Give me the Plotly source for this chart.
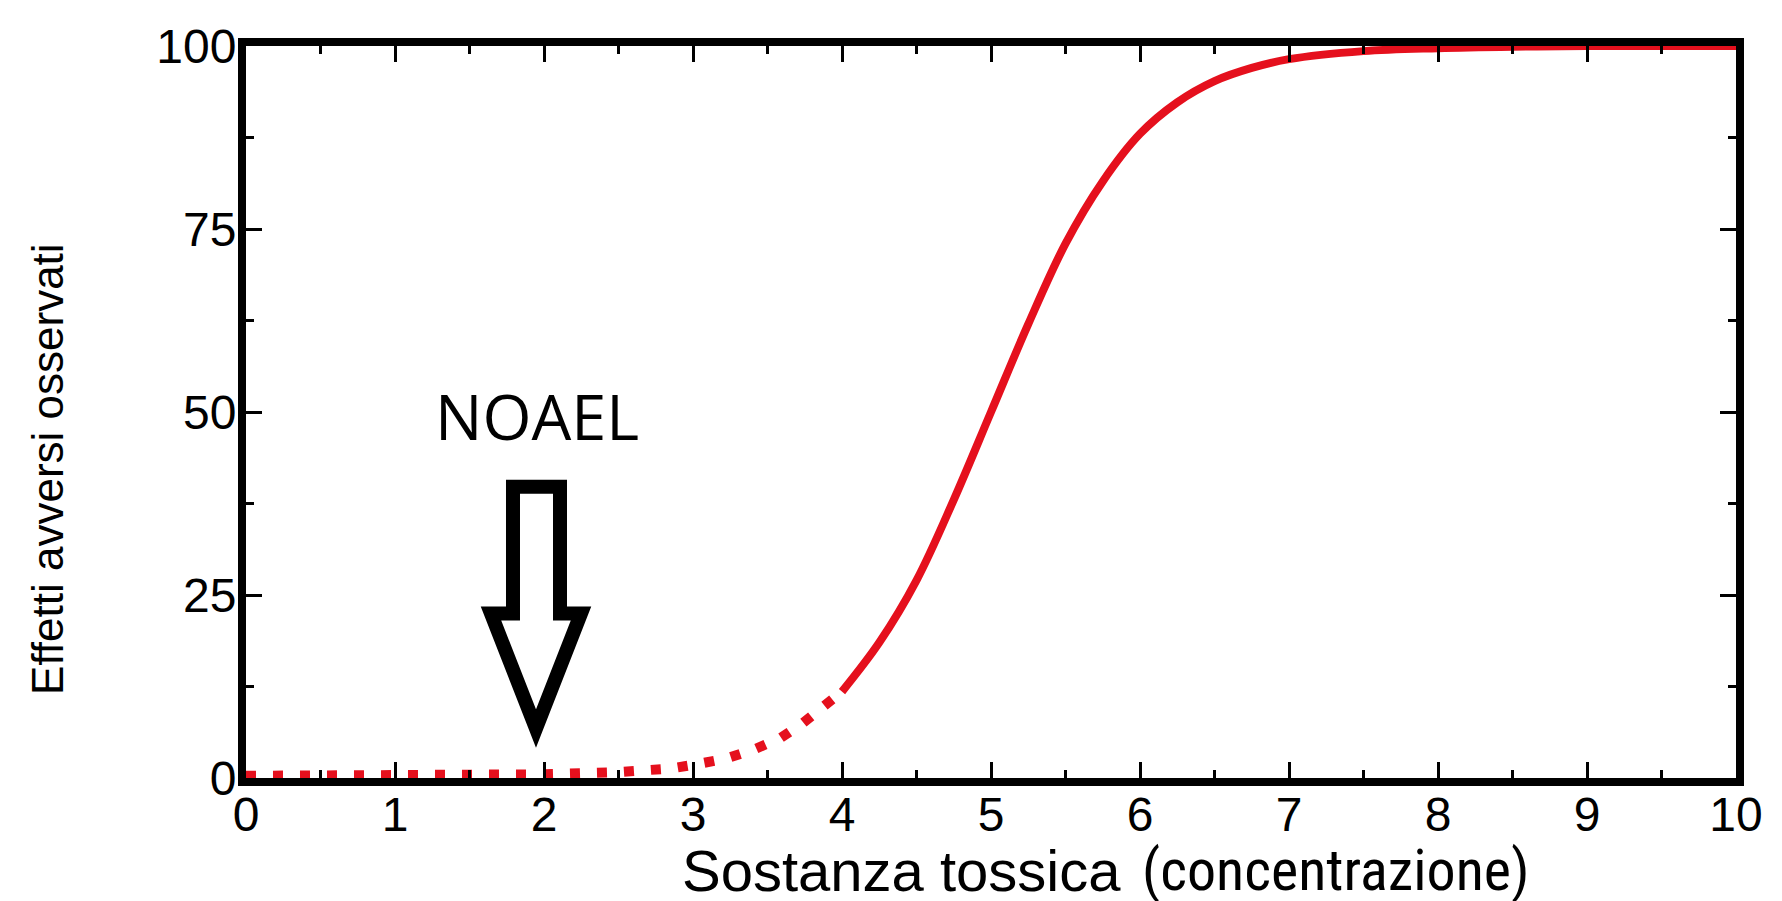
import plotly.graph_objects as go

# ---- data ----
x_dotted = [0.0, 0.5, 1.0, 1.5, 2.0, 2.5, 2.85, 3.03, 3.23, 3.41, 3.59, 3.73, 3.87, 4.0]
y_dotted = [0.3, 0.3, 0.35, 0.4, 0.5, 0.8, 1.3, 1.9, 2.7, 3.9, 5.5, 7.4, 9.5, 11.8]

x_solid = [4.0, 4.25, 4.5, 4.75, 5.0, 5.25, 5.5, 5.75, 6.0, 6.25, 6.5, 6.75, 7.0, 7.5, 8.0, 8.5, 9.0, 10.0]
y_solid = [11.8, 18.5, 27.0, 38.0, 50.0, 62.0, 73.0, 81.5, 88.0, 92.3, 95.2, 97.0, 98.2, 99.3, 99.7, 99.9, 100.0, 100.0]

x_ticks = [0, 1, 2, 3, 4, 5, 6, 7, 8, 9, 10]
y_ticks = [0, 25, 50, 75, 100]

x_title_main = "Sostanza tossica"
x_title_extra = "(concentrazione)"
y_title = "Effetti avversi osservati"
noael_label = "NOAEL"

# ---- layout geometry (page pixels) ----
W, H = 1782, 901
OFF = 8  # default body margin of the html page
L, R, T, B = 246, 1736, 39, 778
RED = "#e5101d"


def px_x(p):
    return (p - L) / (R - L)


def px_y(p):
    return (B - p) / (B - T)


fig = go.Figure()
fig.add_trace(go.Scatter(x=x_dotted, y=y_dotted, mode="lines",
                         line=dict(color=RED, width=10, dash="10px,17px"),
                         showlegend=False, hoverinfo="skip"))
fig.add_trace(go.Scatter(x=x_solid, y=y_solid, mode="lines",
                         line=dict(color=RED, width=8, shape="spline"),
                         showlegend=False, hoverinfo="skip"))

tickfont = dict(family="Liberation Sans, Arial, sans-serif", size=48, color="black")

fig.update_xaxes(range=[0, 10], tickvals=x_ticks, ticktext=[str(v) for v in x_ticks],
                 ticks="inside", ticklen=16, tickwidth=3, tickcolor="black",
                 showline=True, linewidth=8, linecolor="black", mirror="allticks",
                 showgrid=False, zeroline=False, tickfont=tickfont, ticklabelstandoff=-13,
                 minor=dict(ticks="inside", ticklen=8, tickwidth=3, dtick=0.5,
                            tick0=0, tickcolor="black", showgrid=False))
fig.update_yaxes(range=[0, 100], tickvals=y_ticks, ticktext=[str(v) for v in y_ticks],
                 ticks="inside", ticklen=16, tickwidth=3, tickcolor="black",
                 showline=True, linewidth=8, linecolor="black", mirror="allticks",
                 showgrid=False, zeroline=False, tickfont=tickfont, ticklabelstandoff=-8,
                 minor=dict(ticks="inside", ticklen=8, tickwidth=3, dtick=12.5,
                            tick0=0, tickcolor="black", showgrid=False))

# NOAEL outline arrow (pixel geometry converted to paper coords)
arrow_pts = [(513, 484), (560, 484), (560, 612), (581, 612), (536, 728),
             (491, 612), (513, 612)]
path = "M " + " L ".join(f"{px_x(a):.5f},{px_y(b):.5f}" for a, b in arrow_pts) + " Z"
fig.add_shape(type="path", path=path, xref="paper", yref="paper",
              line=dict(color="black", width=14), fillcolor="white", layer="above")

annos = [
    dict(text=noael_label, x=px_x(537), y=px_y(412), xanchor="center", yanchor="middle",
         font=dict(family="Open Sans, sans-serif", size=63, color="black")),
    dict(text=x_title_main, x=px_x(680), y=px_y(871), xanchor="left", yanchor="middle",
         font=dict(family="Liberation Sans, Arial, sans-serif", size=58, color="black")),
    dict(text=x_title_extra, x=px_x(1140), y=px_y(871), xanchor="left", yanchor="middle",
         font=dict(family="Liberation Sans Narrow, Roboto Condensed, Roboto, sans-serif",
                   size=58, color="black")),
    dict(text=y_title, x=px_x(48), y=px_y(466), xanchor="center", yanchor="middle",
         textangle=-90,
         font=dict(family="Liberation Sans, Arial, sans-serif", size=44, color="black")),
]
for a in annos:
    fig.add_annotation(xref="paper", yref="paper", showarrow=False, **a)

fig.update_layout(width=W, height=H, autosize=False,
                  margin=dict(l=L - OFF, r=W - (R - OFF), t=T - OFF, b=H - (B - OFF), pad=0),
                  paper_bgcolor="white", plot_bgcolor="white")

fig.write_html("out.html")
